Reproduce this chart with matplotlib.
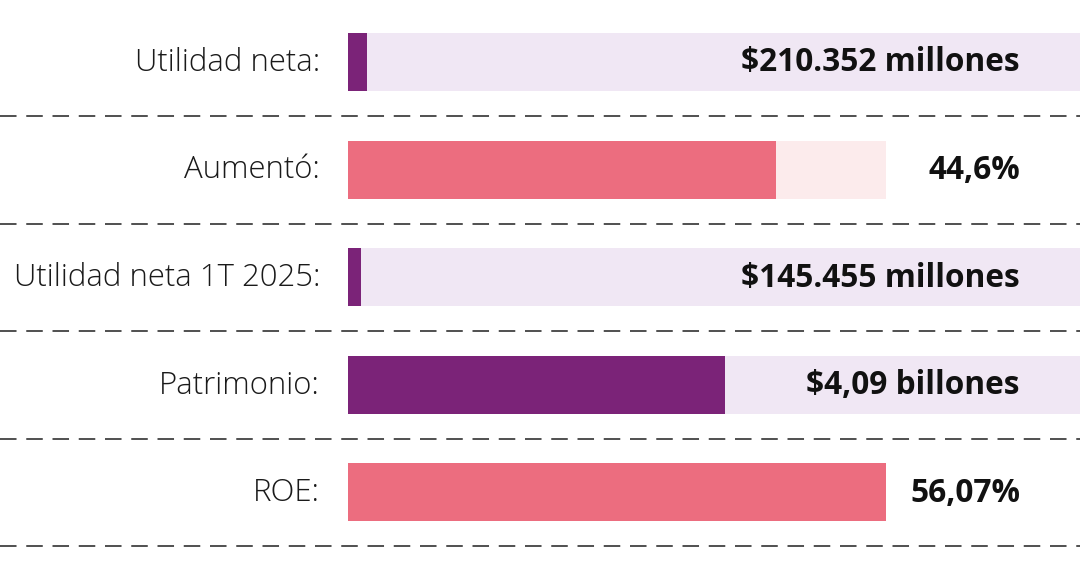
import matplotlib
matplotlib.use('Agg')
import matplotlib.pyplot as plt

labels = ['Utilidad neta:', 'Aumentó:', 'Utilidad neta 1T 2025:', 'Patrimonio:', 'ROE:']
values = [210.352, 44.6, 145.455, 4090, 56.07]
scale_max = [7950, 56.07, 7950, 7950, 56.07]
value_text = ['$210.352 millones', '44,6%', '$145.455 millones', '$4,09 billones', '56,07%']
kind = ['purple', 'pink', 'purple', 'purple', 'pink']

colors = {
    'purple': ('#7b2378', '#f0e7f4'),
    'pink': ('#ec6d7f', '#fcebec'),
}

W, H = 1080, 567
fig = plt.figure(figsize=(10.8, 5.67), dpi=100)
ax = fig.add_axes([0, 0, 1, 1])
ax.set_xlim(0, W)
ax.set_ylim(H, 0)
ax.axis('off')

x0 = 348
row_h = 107.5
bar_h = 58
y_first = 62
long_track = W - x0
short_track = 886 - x0

for i, lab in enumerate(labels):
    y = y_first + i * row_h
    fill_c, track_c = colors[kind[i]]
    track = long_track if kind[i] == 'purple' else short_track
    ax.barh(y, track, left=x0, height=bar_h, color=track_c, linewidth=0)
    ax.barh(y, values[i] / scale_max[i] * track, left=x0, height=bar_h,
            color=fill_c, linewidth=0)
    ax.text(320, y + 1, lab, ha='right', va='center', fontsize=22.4,
            family='Open Sans', fontweight='light', color='#1a1a1a')
    ax.text(1020, y + 1, value_text[i], ha='right', va='center', fontsize=22.8,
            family='Open Sans', fontweight='bold', color='#111111')
    # dashed separator under each row
    ax.plot([0, W], [y + 54, y + 54], color='#505050', lw=1.4,
            dashes=(8.5, 5), solid_capstyle='butt')

fig.savefig('out.png', dpi=100)
